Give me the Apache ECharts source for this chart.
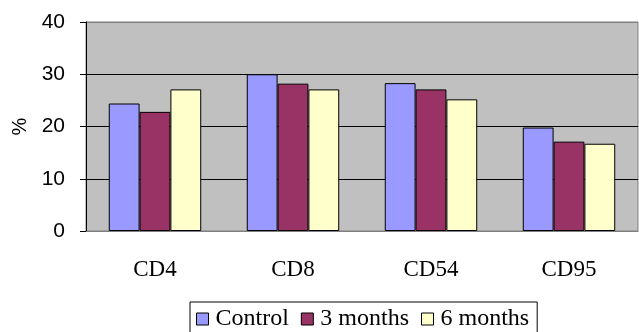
<!DOCTYPE html>
<html><head><meta charset="utf-8">
<script src="https://cdn.jsdelivr.net/npm/echarts@6/dist/echarts.min.js"></script>
<style>html,body{margin:0;padding:0;background:#fff}#c{width:639px;height:332px}</style>
</head><body><div id="c"></div>
<script>
const categories = ['CD4', 'CD8', 'CD54', 'CD95'];
const control = [24.4, 30.0, 28.3, 19.8];
const months3 = [22.8, 28.2, 27.1, 17.1];
const months6 = [27.1, 27.1, 25.2, 16.7];
const seriesNames = ['Control', '3 months', '6 months'];
const colors = ['#9999FF', '#993366', '#FFFFCC'];
const yTicks = [0, 10, 20, 30, 40];

const chart = echarts.init(document.getElementById('c'), null, {renderer: 'canvas'});
const data = [control, months3, months6];
const serif = 'Liberation Serif';
chart.setOption({
  animation: false,
  grid: {left: 86, right: 1, top: 22, bottom: 101, containLabel: false, outerBoundsMode: 'none',
         show: true, backgroundColor: '#C0C0C0', borderColor: '#808080', borderWidth: 1},
  legend: {
    left: 190, top: 302, itemWidth: 12, itemHeight: 12, itemGap: 12,
    padding: [5, 8, 10, 6],
    borderColor: '#000', borderWidth: 1,
    textStyle: {fontFamily: serif, fontSize: 24, color: '#000', padding: [0, 0, 0, 2]},
    data: seriesNames.map(n => ({name: n, icon: 'rect', itemStyle: {borderColor: '#000', borderWidth: 1},
      textStyle: {fontFamily: serif, fontSize: 24, color: '#000'}}))
  },
  xAxis: {
    type: 'category', data: categories,
    axisLine: {lineStyle: {color: '#808080'}},
    axisTick: {show: false},
    axisLabel: {fontFamily: serif, fontSize: 23, color: '#000', margin: 27}
  },
  yAxis: {
    type: 'value', min: yTicks[0], max: yTicks[yTicks.length - 1], interval: 10,
    name: '%', nameLocation: 'middle', nameGap: 56, nameRotate: 90,
    nameTextStyle: {fontFamily: 'Liberation Sans', fontSize: 20, color: '#000'},
    axisLine: {show: true, lineStyle: {color: '#000'}},
    axisTick: {show: true, length: 6, lineStyle: {color: '#000'}},
    axisLabel: {fontFamily: 'Liberation Sans', fontSize: 21, color: '#000', margin: 21},
    splitLine: {show: true, lineStyle: {color: ['#808080', '#000', '#000', '#000', '#808080'], width: 1}}
  },
  series: seriesNames.map((n, i) => ({
    name: n, type: 'bar', data: data[i],
    barGap: '0%', barCategoryGap: '33%',
    itemStyle: {color: colors[i], borderColor: '#000', borderWidth: 1}
  }))
});
</script></body></html>
